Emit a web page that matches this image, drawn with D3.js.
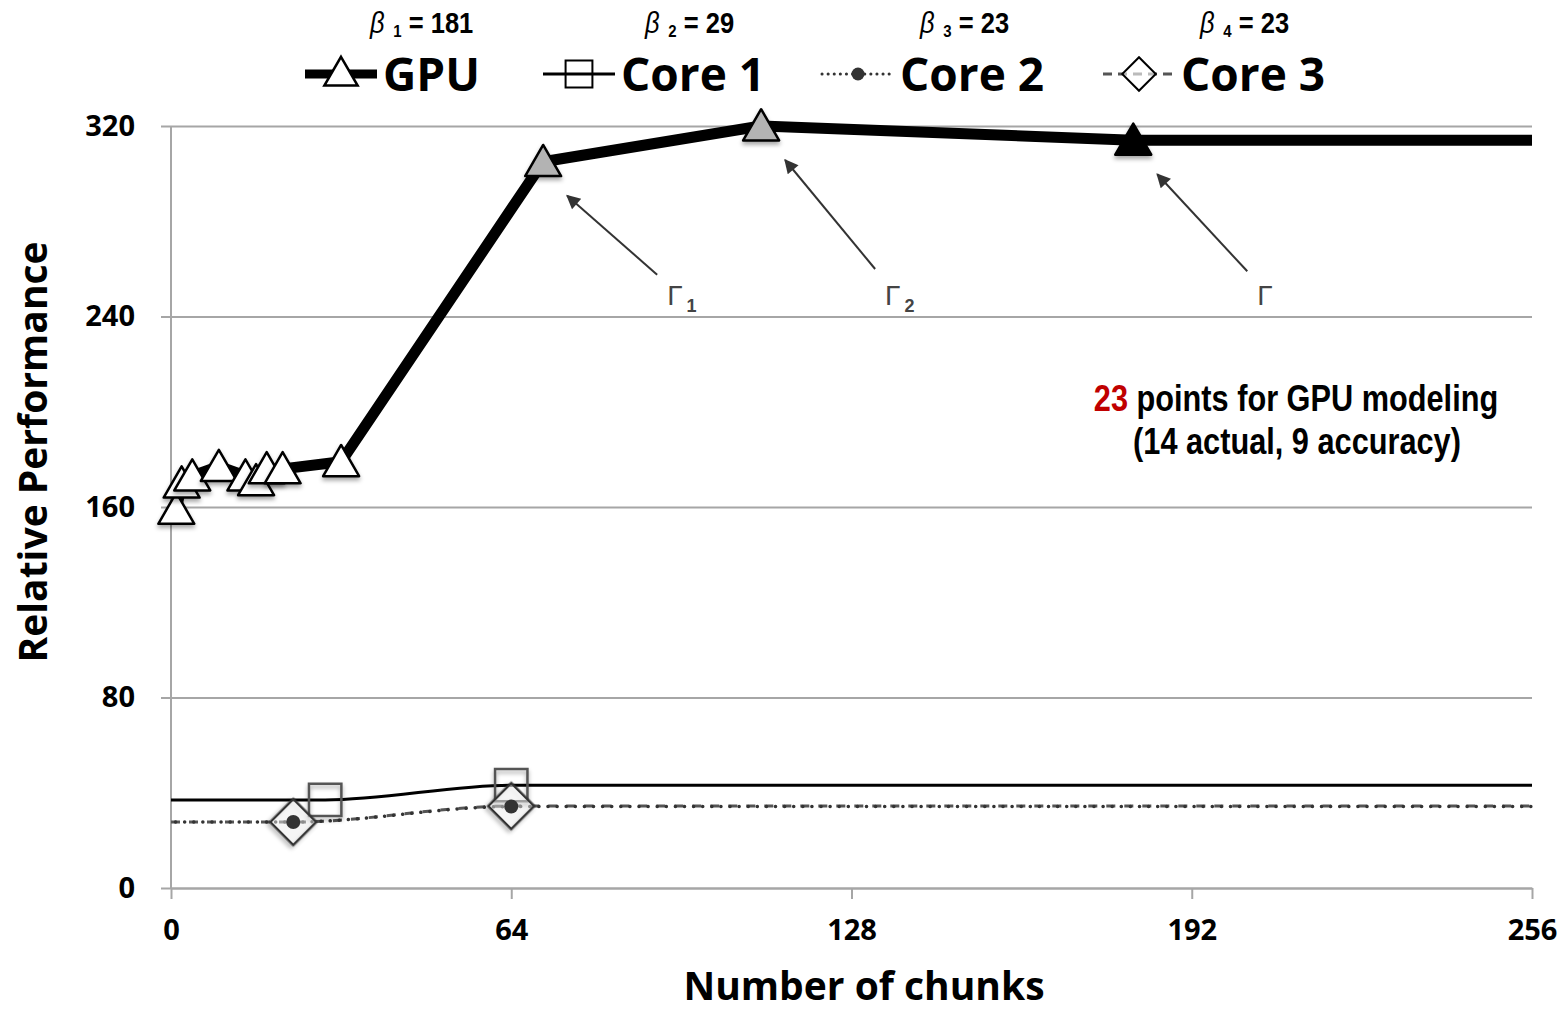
<!DOCTYPE html>
<html>
<head>
<meta charset="utf-8">
<script src="https://cdn.jsdelivr.net/npm/d3@7"></script>
<style>
  body { margin: 0; background: #fff; }
  svg { display: block; }
</style>
</head>
<body>
<div id="chart"></div>
<script>
// chart data
const xTicks = [0, 64, 128, 192, 256];
const yTicks = [0, 80, 160, 240, 320];

const gpuX = [1, 2, 4, 9, 14, 16, 18, 21, 32, 70, 111, 181, 256];
const gpuY = [159, 170, 173, 177, 173, 171, 176, 176, 179, 305, 320, 314, 314];
// marker fill per GPU point: actual runs white, Γ1/Γ2 grey, Γ black
const gpuMarker = ["white", "white", "white", "white", "white", "white", "white", "white", "white", "#b3b3b3", "#b3b3b3", "black", null];

const core1X = [0, 29, 64, 256];
const core1Y = [37, 37, 43.2, 43.2];
const core1Marker = [false, true, true, false];

const core2X = [0, 23, 64, 256];
const core2Y = [27.7, 27.7, 34.2, 34.2];
const core2Marker = [false, true, true, false];

const core3X = [0, 23, 64, 256];
const core3Y = [27.7, 27.7, 34.4, 34.4];
const core3Marker = [false, true, true, false];

const legendNames = ["GPU", "Core 1", "Core 2", "Core 3"];
const betaValues = [181, 29, 23, 23];

// annotated points (Γ1, Γ2, Γ)
const gammaX = [70, 111, 181];
const gammaY = [305, 320, 314];
const gammaSub = ["1", "2", ""];

const W = 1567, H = 1012;
const margin = {top: 126, right: 35, bottom: 124, left: 171};

let svg = d3.select("#chart").append("svg")
    .attr("width", W)
    .attr("height", H);

let defs = svg.append("defs");
let shadow = defs.append("filter")
    .attr("id", "shadow")
    .attr("x", "-30%").attr("y", "-30%")
    .attr("width", "160%").attr("height", "170%");
shadow.append("feDropShadow")
    .attr("dx", 0).attr("dy", 3)
    .attr("stdDeviation", 2)
    .attr("flood-color", "#000")
    .attr("flood-opacity", 0.35);

defs.append("marker")
    .attr("id", "arrow")
    .attr("viewBox", "0 0 10 10")
    .attr("refX", 9).attr("refY", 5)
    .attr("markerWidth", 16).attr("markerHeight", 14)
    .attr("markerUnits", "userSpaceOnUse")
    .attr("orient", "auto")
    .append("path")
    .attr("d", "M0,0 L10,5 L0,10 z")
    .attr("fill", "#333");

let x = d3.scaleLinear().domain([0, 256]).range([margin.left, W - margin.right]);
let y = d3.scaleLinear().domain([0, 320]).range([H - margin.bottom, margin.top]);

const grid = "#a6a6a6";
const tickFont = "Open Sans";

// horizontal gridlines + y axis
let yAxis = svg.append("g")
    .attr("transform", "translate(" + margin.left + ",0)")
    .call(d3.axisLeft(y).tickValues(yTicks).tickSize(-(W - margin.right - margin.left)).tickSizeOuter(0).tickPadding(36));
yAxis.select(".domain").remove();
yAxis.selectAll(".tick line")
    .attr("x1", -10)
    .attr("stroke", grid)
    .attr("stroke-width", 2);
yAxis.selectAll(".tick text")
    .style("font-family", tickFont)
    .style("font-weight", "bold")
    .style("font-size", "29px")
    .attr("fill", "black");

svg.append("line")
    .attr("x1", x(0)).attr("x2", x(0))
    .attr("y1", y(320)).attr("y2", y(0))
    .attr("stroke", grid)
    .attr("stroke-width", 2);

// x axis
let xAxis = svg.append("g")
    .attr("transform", "translate(0," + y(0) + ")")
    .call(d3.axisBottom(x).tickValues(xTicks).tickSize(11).tickSizeOuter(0).tickPadding(20));
xAxis.select(".domain")
    .attr("stroke", grid)
    .attr("stroke-width", 2);
xAxis.selectAll(".tick line")
    .attr("stroke", grid)
    .attr("stroke-width", 2);
xAxis.selectAll(".tick text")
    .style("font-family", tickFont)
    .style("font-weight", "bold")
    .style("font-size", "29px")
    .attr("fill", "black");

// axis titles
svg.append("text")
    .text("Number of chunks")
    .attr("x", 864).attr("y", 1000)
    .attr("text-anchor", "middle")
    .style("font-family", tickFont)
    .style("font-weight", "bold")
    .style("font-size", "39px");
svg.append("text")
    .text("Relative Performance")
    .attr("transform", "translate(47, 452), rotate(-90)")
    .attr("text-anchor", "middle")
    .style("font-family", tickFont)
    .style("font-weight", "bold")
    .style("font-size", "39px");

// ---- series lines ----
function pts(xs, ys) { return xs.map((d, i) => [d, ys[i]]); }

let smooth = d3.line().x(d => x(d[0])).y(d => y(d[1])).curve(d3.curveMonotoneX);
let straight = d3.line().x(d => x(d[0])).y(d => y(d[1]));

svg.append("path")
    .attr("d", smooth(pts(core1X, core1Y)))
    .attr("fill", "none")
    .attr("stroke", "black")
    .attr("stroke-width", 3);

svg.append("path")
    .attr("d", smooth(pts(core3X, core3Y)))
    .attr("fill", "none")
    .attr("stroke", "#555")
    .attr("stroke-width", 3)
    .attr("stroke-dasharray", "9,9");

svg.append("path")
    .attr("d", smooth(pts(core2X, core2Y)))
    .attr("fill", "none")
    .attr("stroke", "#333")
    .attr("stroke-width", 3.5)
    .attr("stroke-linecap", "round")
    .attr("stroke-dasharray", "0.1,9")
    .attr("stroke-dashoffset", -4.5);

svg.append("path")
    .attr("d", straight(pts(gpuX, gpuY)))
    .attr("fill", "none")
    .attr("stroke", "black")
    .attr("stroke-width", 11)
    .attr("stroke-linejoin", "round");

// ---- markers ----
let triangle = d3.symbol().type(d3.symbolTriangle).size(560);
let square = d3.symbol().type(d3.symbolSquare).size(1050);
let diamond = d3.symbol().type(d3.symbolSquare).size(1050);

// core 1 squares
svg.append("g").selectAll("path")
    .data(pts(core1X, core1Y).filter((d, i) => core1Marker[i]))
    .enter().append("path")
    .attr("d", square)
    .attr("transform", d => "translate(" + x(d[0]) + "," + y(d[1]) + ")")
    .attr("fill", "white")
    .attr("fill-opacity", 0)
    .attr("stroke", "#555")
    .attr("stroke-width", 2.5)
    .attr("filter", "url(#shadow)");

// core 3 diamonds
svg.append("g").selectAll("path")
    .data(pts(core3X, core3Y).filter((d, i) => core3Marker[i]))
    .enter().append("path")
    .attr("d", diamond)
    .attr("transform", d => "translate(" + x(d[0]) + "," + y(d[1]) + ") rotate(45)")
    .attr("fill", "white")
    .attr("fill-opacity", 0.4)
    .attr("stroke", "#333")
    .attr("stroke-width", 2.5)
    .attr("filter", "url(#shadow)");

// core 2 dots
svg.append("g").selectAll("circle")
    .data(pts(core2X, core2Y).filter((d, i) => core2Marker[i]))
    .enter().append("circle")
    .attr("cx", d => x(d[0]))
    .attr("cy", d => y(d[1]))
    .attr("r", 7)
    .attr("fill", "#333");

// gpu triangles
let gpuPts = pts(gpuX, gpuY).map((d, i) => ({x: d[0], y: d[1], fill: gpuMarker[i]}))
    .filter(d => d.fill !== null);
svg.append("g").selectAll("path")
    .data(gpuPts)
    .enter().append("path")
    .attr("d", triangle)
    .attr("transform", d => "translate(" + x(d.x) + "," + (y(d.y) + 4) + ")")
    .attr("fill", d => d.fill)
    .attr("stroke", "black")
    .attr("stroke-width", 2.5)
    .attr("stroke-linejoin", "round")
    .attr("filter", "url(#shadow)");

// ---- Γ annotations ----
let ann = svg.append("g");
gammaX.forEach((gx, i) => {
    let px = x(gx), py = y(gammaY[i]);
    ann.append("line")
        .attr("x1", px + 114).attr("y1", py + 113 + (i == 1 ? 30 : 0) - (i == 2 ? -18 : 0))
        .attr("x2", px + 24).attr("y2", py + 34)
        .attr("stroke", "#333")
        .attr("stroke-width", 2)
        .attr("marker-end", "url(#arrow)");
    let t = ann.append("text")
        .attr("x", px + 124)
        .attr("y", 305)
        .style("font-family", "Liberation Sans")
        .style("font-size", "28px")
        .attr("fill", "#444")
        .text("Γ");
    if (gammaSub[i]) {
        t.append("tspan")
            .attr("dx", 4).attr("dy", 7)
            .style("font-size", "18px")
            .style("font-weight", "bold")
            .text(gammaSub[i]);
    }
});

// ---- note (condensed look via horizontal squeeze) ----
const narrow = "Liberation Sans, Arial, sans-serif";
let note = svg.append("text")
    .attr("transform", "translate(1296, 411) scale(0.83, 1)")
    .attr("text-anchor", "middle")
    .style("font-family", narrow)
    .style("font-weight", "bold")
    .style("font-size", "37px");
note.append("tspan").attr("fill", "#c00000").text("23");
note.append("tspan").attr("fill", "black").text(" points for GPU modeling");
svg.append("text")
    .attr("transform", "translate(1297, 454) scale(0.83, 1)")
    .attr("text-anchor", "middle")
    .style("font-family", narrow)
    .style("font-weight", "bold")
    .style("font-size", "37px")
    .text("(14 actual, 9 accuracy)");

// ---- legend ----
const legendX = [305, 543, 822, 1103];
const betaX = [370, 645, 920, 1200];
let legend = svg.append("g");
legendNames.forEach((name, i) => {
    let lx = legendX[i], ly = 74;
    let sample = legend.append("line")
        .attr("x1", lx).attr("x2", lx + 72)
        .attr("y1", ly).attr("y2", ly);
    if (i == 0) sample.attr("stroke", "black").attr("stroke-width", 9);
    if (i == 1) sample.attr("stroke", "black").attr("stroke-width", 3);
    if (i == 2) sample.attr("stroke", "#333").attr("stroke-width", 3).attr("stroke-linecap", "round").attr("stroke-dasharray", "0.1,6");
    if (i == 3) sample.attr("stroke", "#555").attr("stroke-width", 3).attr("stroke-dasharray", "9,6");

    let cx = lx + 36;
    if (i == 0) {
        legend.append("path").attr("d", d3.symbol().type(d3.symbolTriangle).size(480))
            .attr("transform", "translate(" + cx + "," + (ly + 2) + ")")
            .attr("fill", "white").attr("stroke", "black").attr("stroke-width", 2.5);
    } else if (i == 1) {
        legend.append("path").attr("d", d3.symbol().type(d3.symbolSquare).size(720))
            .attr("transform", "translate(" + cx + "," + ly + ")")
            .attr("fill", "none").attr("stroke", "black").attr("stroke-width", 2);
    } else if (i == 2) {
        legend.append("circle").attr("cx", cx).attr("cy", ly).attr("r", 6.5).attr("fill", "#333");
    } else {
        legend.append("path").attr("d", d3.symbol().type(d3.symbolSquare).size(560))
            .attr("transform", "translate(" + cx + "," + ly + ") rotate(45)")
            .attr("fill", "white").attr("fill-opacity", 0.6).attr("stroke", "black").attr("stroke-width", 2);
    }

    legend.append("text")
        .attr("x", lx + 78).attr("y", ly + 17)
        .style("font-family", tickFont)
        .style("font-weight", "bold")
        .style("font-size", "46px")
        .text(name);

    // β label as one text: symbol, subscript index, value — squeezed to look condensed
    let b = legend.append("text")
        .attr("transform", "translate(" + betaX[i] + ",33) scale(0.88, 1)")
        .style("font-family", narrow)
        .style("font-weight", "bold")
        .style("font-size", "29px");
    b.append("tspan")
        .style("font-weight", "normal")
        .style("font-style", "italic")
        .text("β");
    b.append("tspan")
        .attr("dx", 10).attr("dy", 4)
        .style("font-size", "17px")
        .text(i + 1);
    b.append("tspan")
        .attr("dx", 8).attr("dy", -4)
        .text("= " + betaValues[i]);
});
</script>
</body>
</html>
